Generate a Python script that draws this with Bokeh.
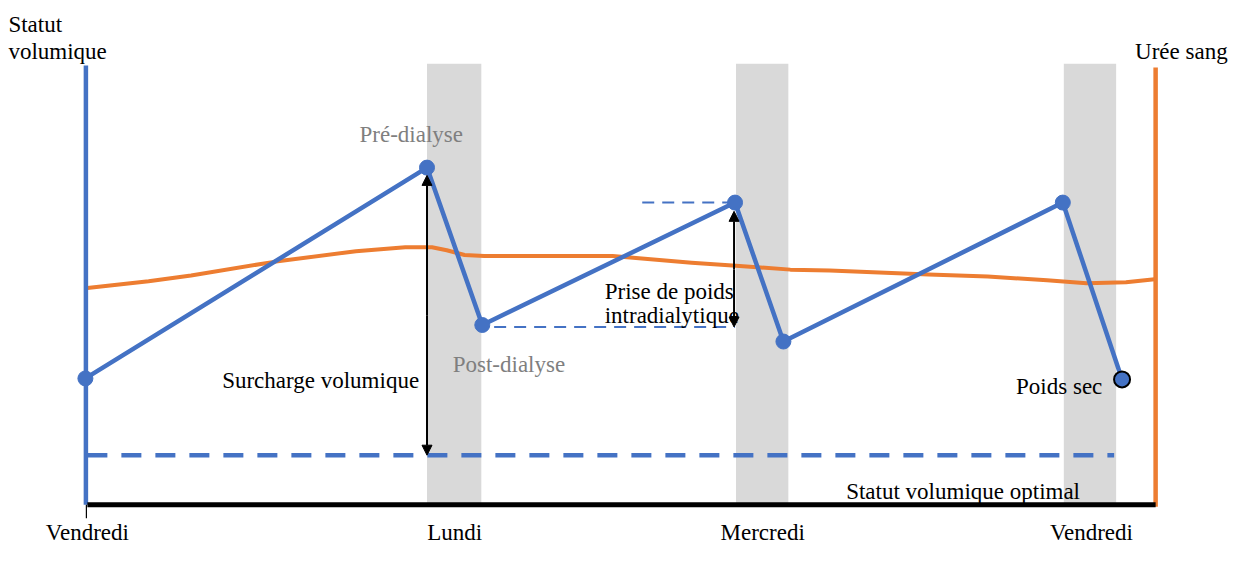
from bokeh.plotting import figure
from bokeh.models import Range1d, Arrow, NormalHead, ColumnDataSource
from bokeh.core.properties import value
from bokeh.embed import file_html
from bokeh.resources import INLINE

# ---- data (schematic units: x = time, y = level) ----
day_labels = ["Vendredi", "Lundi", "Mercredi", "Vendredi"]
day_pos = [88, 460, 772, 1105]

dialysis_start = [432, 745, 1077]
dialysis_end = [487, 798, 1130]

volume_x = [86, 432, 488, 744, 793, 1076, 1136]
volume_y = [174, 391, 229, 355, 212, 355, 173]

optimal_level = 95

urea_x = [88, 150, 193, 277, 360, 410, 437, 452, 470, 490, 560, 620, 700,
          745, 800, 840, 940, 1000, 1060, 1100, 1140, 1169]
urea_y = [267, 274, 280, 294, 305, 309, 309, 306, 301, 300, 300, 300, 293,
          290, 286, 285, 281, 279, 275, 272, 273, 276]

t_start, t_end = 88, 1169
axis_base = 44
axis_top = 496

FONT = value("Liberation Serif")
FS = "23px"

p = figure(width=1242, height=547, output_backend="svg", toolbar_location=None,
           x_range=Range1d(0, 1258), y_range=Range1d(0, 563),
           x_axis_type=None, y_axis_type=None, min_border=0,
           outline_line_color=None, background_fill_color="white",
           border_fill_color="white")
p.grid.visible = False

# dialysis sessions (grey bands)
p.quad(left=dialysis_start, right=dialysis_end, bottom=axis_base,
       top=axis_top + 2, fill_color="#D9D9D9", line_color=None)

# optimal volume status dashed line
p.line([t_start, dialysis_end[-1] - 2], [optimal_level, optimal_level],
       line_color="#4472C4", line_width=4.5, line_dash="20 14")

# short dashed guides for interdialytic weight gain
p.line([650, volume_x[3]], [volume_y[3], volume_y[3]], line_color="#4472C4",
       line_width=2, line_dash="12 8")
p.line([500, volume_x[3]], [volume_y[2] - 2, volume_y[2] - 2],
       line_color="#4472C4", line_width=2, line_dash="12 8")

# urea curve
p.line(urea_x, urea_y, line_color="#ED7D31", line_width=4, line_join="round")

# axes lines
p.line([86.5, 86.5], [axis_base, axis_top], line_color="#4472C4", line_width=4.5)
p.line([1170, 1170], [axis_base - 2, axis_top - 2], line_color="#ED7D31", line_width=4.5)
p.line([t_start, 1170], [axis_base, axis_base], line_color="black", line_width=5)
p.line([t_start - 1, t_start - 1], [axis_base, axis_base - 14], line_color="black", line_width=1.2)

# volume zigzag
p.line(volume_x, volume_y, line_color="#4472C4", line_width=4.5, line_join="round")
p.scatter(volume_x[:-1], volume_y[:-1], size=15, fill_color="#4472C4", line_color="#4472C4")
p.scatter(volume_x[-1:], volume_y[-1:], size=16, fill_color="#4472C4",
          line_color="black", line_width=2)

# arrows
for xa, y0, y1 in [(volume_x[1], optimal_level, volume_y[1] - 8),
                   (volume_x[3] - 1, volume_y[2] - 2, volume_y[3] - 9)]:
    p.add_layout(Arrow(x_start=xa, y_start=(y0 + y1) / 2, x_end=xa, y_end=y0,
                       line_width=2, line_color="black",
                       end=NormalHead(size=10, fill_color="black", line_color="black")))
    p.add_layout(Arrow(x_start=xa, y_start=(y0 + y1) / 2, x_end=xa, y_end=y1,
                       line_width=2, line_color="black",
                       end=NormalHead(size=10, fill_color="black", line_color="black")))

# day tick labels
p.text(x=day_pos, y=[15] * len(day_pos), text=day_labels, text_align="center",
       text_baseline="alphabetic", text_font=FONT, text_font_size=FS, text_color="black")

# annotations
black_notes = ColumnDataSource(dict(
    x=[8, 8, 1243, 424, 612, 612, 1116, 975],
    y=[538, 511, 510, 172, 263, 239, 166, 58],
    text=["Statut", "volumique", "Urée sang", "Surcharge volumique",
          "Prise de poids", "intradialytique", "Poids sec",
          "Statut volumique optimal"],
    align=["left", "left", "right", "right", "left", "left", "right", "center"],
))
p.text(x="x", y="y", text="text", text_align="align", source=black_notes,
       text_baseline="alphabetic", text_font=FONT, text_font_size=FS,
       text_color="black")

grey_notes = ColumnDataSource(dict(
    x=[416, 515], y=[425, 188], text=["Pré-dialyse", "Post-dialyse"]))
p.text(x="x", y="y", text="text", source=grey_notes, text_align="center",
       text_baseline="alphabetic", text_font=FONT, text_font_size=FS,
       text_color="#7F7F7F")

open("out.html", "w").write(file_html(p, INLINE))
